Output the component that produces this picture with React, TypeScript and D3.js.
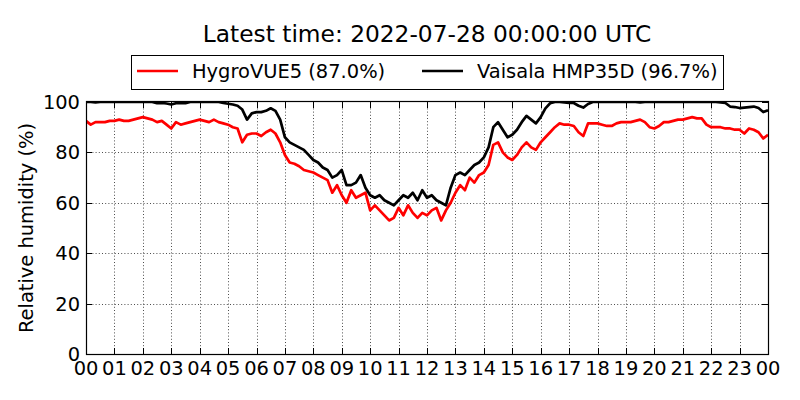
import React, { useRef, useEffect } from 'react';
import * as d3 from 'd3';

// 10-minute samples, 00:00 -> 24:00 (145 values each)
const hygroVue5: number[] = [
  92.5, 91, 92, 92, 92, 92.5,
  92.5, 93, 92.5, 92.5, 93, 93.5,
  94, 93.5, 93, 92, 92.5, 91,
  89.5, 92, 91, 91.5, 92, 92.5,
  93, 92.5, 92, 93, 92, 91.5,
  91, 90, 89.5, 84, 87, 87.5,
  87.5, 86.5, 88, 89, 87.5, 84,
  79, 76, 75.5, 74.5, 73, 72.5,
  72, 71, 70, 69, 64, 67,
  63, 60, 65, 62, 63, 64,
  57, 59, 57, 55, 53, 54,
  58, 55, 59, 56, 54, 56,
  55, 57, 58, 53, 57, 60,
  64, 67, 65, 70, 68, 71,
  72, 75, 83, 84, 80, 78,
  77, 79, 82, 84, 82, 81,
  84, 86, 88, 90, 91.5, 91,
  91, 90.5, 88, 86.5, 91.5, 91.5,
  91.5, 91, 90.5, 90.5, 91.5, 92,
  92, 92, 92.5, 93, 92, 90,
  89.5, 90.5, 92, 92, 92.5, 93,
  93, 93.5, 94, 93.5, 93.5, 91,
  90, 90, 90, 89.5, 89.5, 89,
  89, 87.5, 89.5, 89, 88, 85.5,
  87,
];

const vaisalaHmp35d: number[] = [
  100, 100, 99.8, 100, 100, 100,
  100, 100, 100, 100, 100, 100,
  100, 100, 100, 99.5, 99.6, 99.4,
  99, 99.5, 99.6, 99.5, 100, 100,
  100, 100, 100, 100, 100, 99.6,
  99.3, 99, 98.5, 97, 93, 95.5,
  96, 96, 96.5, 97.5, 96.5, 93,
  86, 84, 83, 82, 81, 79,
  77, 76, 74, 73, 70, 71,
  73, 67, 67, 68, 71, 66,
  63, 62, 63, 61, 60, 59,
  61, 63, 62, 64, 61, 65,
  62, 63, 61, 60, 59, 66,
  71, 72, 71, 73, 75, 76,
  78, 82, 90, 92, 89, 86,
  87, 89, 92, 94.5, 93, 91.5,
  94, 97.5, 99.5, 100, 100, 99.8,
  99.6, 99.6, 98.5, 97.8, 99.2, 100,
  100, 100, 100, 100, 100, 100,
  100, 100, 100, 99.8, 100, 100,
  100, 100, 100, 100, 100, 100,
  100, 100, 100, 100, 100, 100,
  100, 100, 99.8, 99.6, 98.2, 98,
  97.6, 97.8, 98, 98.2, 97.6, 96,
  96.7,
];

const seriesNames = ['HygroVUE5 (87.0%)', 'Vaisala HMP35D (96.7%)'];
const seriesColors = ['#ff0000', '#000000'];
const hourTicks = d3.range(0, 25);
const humidityTicks = [0, 20, 40, 60, 80, 100];
const title = 'Latest time: 2022-07-28 00:00:00 UTC';

const W = 800;
const H = 400;
const left = 86;
const right = 768;
const top = 102;
const bottom = 354;
const FONT = '"DejaVu Sans", sans-serif';

function HumidityChart(): React.ReactElement {
  const svgRef = useRef<SVGSVGElement | null>(null);

  useEffect(() => {
    const svg = d3.select(svgRef.current);
    svg.selectAll('*').remove();

    const x = d3.scaleLinear().domain([0, 24]).range([left, right]);
    const y = d3.scaleLinear().domain([0, 100]).range([bottom, top]);

    svg.append('rect').attr('width', W).attr('height', H).attr('fill', '#fff');

    svg.append('clipPath').attr('id', 'plot-clip')
      .append('rect')
      .attr('x', left).attr('y', top)
      .attr('width', right - left).attr('height', bottom - top);

    // dotted grid
    const grid = svg.append('g')
      .attr('stroke', '#000')
      .attr('stroke-width', 0.7)
      .attr('stroke-dasharray', '1,2.2');
    hourTicks.slice(1, -1).forEach((h) => {
      grid.append('line')
        .attr('x1', Math.round(x(h)) + 0.5).attr('x2', Math.round(x(h)) + 0.5)
        .attr('y1', top).attr('y2', bottom);
    });
    humidityTicks.slice(1, -1).forEach((v) => {
      grid.append('line')
        .attr('y1', Math.round(y(v)) + 0.5).attr('y2', Math.round(y(v)) + 0.5)
        .attr('x1', left).attr('x2', right);
    });

    const line = d3.line<number>()
      .x((_, i) => x(i / 6))
      .y((d) => y(d));

    const plot = svg.append('g').attr('clip-path', 'url(#plot-clip)');
    [hygroVue5, vaisalaHmp35d].forEach((s, k) => {
      plot.append('path')
        .datum(s)
        .attr('d', line)
        .attr('fill', 'none')
        .attr('stroke', seriesColors[k])
        .attr('stroke-width', 2.7)
        .attr('stroke-linejoin', 'round');
    });

    // inward ticks on all four sides
    const ticks = svg.append('g').attr('stroke', '#000').attr('stroke-width', 1);
    hourTicks.forEach((h) => {
      const px = Math.round(x(h)) + 0.5;
      ticks.append('line').attr('x1', px).attr('x2', px).attr('y1', bottom).attr('y2', bottom - 6);
      ticks.append('line').attr('x1', px).attr('x2', px).attr('y1', top).attr('y2', top + 6);
    });
    humidityTicks.forEach((v) => {
      const py = Math.round(y(v)) + 0.5;
      ticks.append('line').attr('y1', py).attr('y2', py).attr('x1', left).attr('x2', left + 6);
      ticks.append('line').attr('y1', py).attr('y2', py).attr('x1', right).attr('x2', right - 6);
    });

    svg.append('rect')
      .attr('x', left + 0.5).attr('y', top - 0.5)
      .attr('width', right - left).attr('height', bottom - top + 1)
      .attr('fill', 'none').attr('stroke', '#000').attr('stroke-width', 1.2);

    const labels = svg.append('g')
      .attr('font-family', FONT)
      .attr('font-size', 19.44)
      .attr('fill', '#000');

    hourTicks.forEach((h) => {
      labels.append('text')
        .attr('x', x(h))
        .attr('y', 375)
        .attr('text-anchor', 'middle')
        .text(d3.format('02d')(h % 24));
    });
    humidityTicks.forEach((v) => {
      labels.append('text')
        .attr('x', 80)
        .attr('y', y(v))
        .attr('dy', '0.36em')
        .attr('text-anchor', 'end')
        .text(String(v));
    });

    labels.append('text')
      .attr('transform', `translate(33, ${(top + bottom) / 2}) rotate(-90)`)
      .attr('text-anchor', 'middle')
      .text('Relative humidity (%)');

    svg.append('text')
      .attr('x', (left + right) / 2)
      .attr('y', 42)
      .attr('text-anchor', 'middle')
      .attr('font-family', FONT)
      .attr('font-size', 23.3)
      .text(title);

    // legend
    const legend = svg.append('g');
    legend.append('rect')
      .attr('x', 131.5).attr('y', 55.5)
      .attr('width', 592).attr('height', 34)
      .attr('fill', '#fff').attr('stroke', '#000').attr('stroke-width', 1);
    const entryX = [137, 422];
    seriesNames.forEach((name, k) => {
      legend.append('line')
        .attr('x1', entryX[k]).attr('x2', entryX[k] + 41)
        .attr('y1', 71).attr('y2', 71)
        .attr('stroke', seriesColors[k]).attr('stroke-width', 2.7);
      legend.append('text')
        .attr('x', entryX[k] + 55)
        .attr('y', 78)
        .attr('font-family', FONT)
        .attr('font-size', 19.44)
        .text(name);
    });
  }, []);

  return (
    <svg
      ref={svgRef}
      width={W}
      height={H}
      style={{ position: 'absolute', left: 0, top: 0 }}
    />
  );
}

export default function App(): React.ReactElement {
  return <HumidityChart />;
}
